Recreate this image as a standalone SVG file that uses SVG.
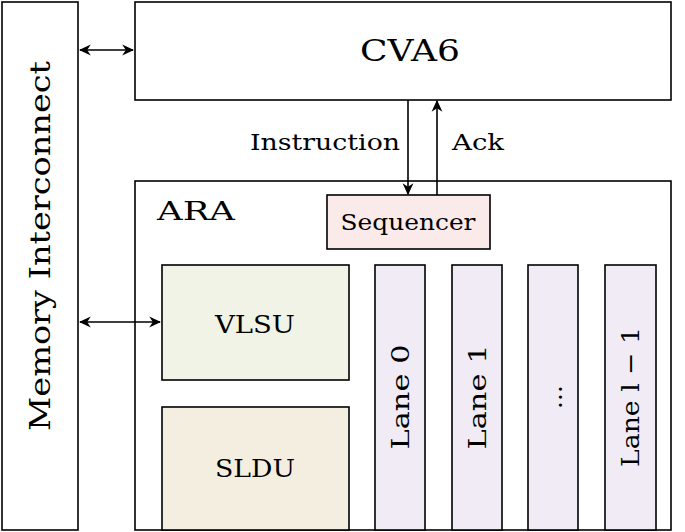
<svg xmlns="http://www.w3.org/2000/svg" width="685" height="532" viewBox="0 0 685 532">
<style>
rect{stroke:#000;stroke-width:1.6}
text{font-family:'DejaVu Serif','Liberation Serif',serif;fill:#000}
.c{stroke:#000;stroke-width:1.6;fill:none}
</style>
<defs>
<marker id="a" viewBox="0 0 10 10" refX="9" refY="5" markerWidth="12" markerHeight="12" orient="auto-start-reverse" markerUnits="userSpaceOnUse"><path d="M0,0.5 L10,5 L0,9.5 L3,5 Z" fill="#000"/></marker>
</defs>
<rect width="685" height="532" fill="#fff" style="stroke:none"/>
<g id="mem"><rect x="2" y="2" width="76" height="528" fill="#fff"/><text transform="translate(50,246) rotate(-90)" text-anchor="middle" font-size="27" textLength="370" lengthAdjust="spacingAndGlyphs">Memory Interconnect</text></g>
<g id="cva6"><rect x="135" y="2" width="536" height="98" fill="#fff"/><text x="410" y="61" text-anchor="middle" font-size="30" textLength="100" lengthAdjust="spacingAndGlyphs">CVA6</text></g>
<g id="ara"><rect x="135" y="181" width="536" height="349" fill="#fff"/><text x="157" y="220" font-size="26" textLength="78" lengthAdjust="spacingAndGlyphs">ARA</text></g>
<g id="seq"><rect x="327" y="195" width="163" height="54" fill="#fbeaea"/><text x="408" y="230" text-anchor="middle" font-size="23" textLength="135" lengthAdjust="spacingAndGlyphs">Sequencer</text></g>
<g id="vlsu"><rect x="162" y="265" width="187" height="115" fill="#f1f3e6"/><text x="255" y="333" text-anchor="middle" font-size="25" textLength="80" lengthAdjust="spacingAndGlyphs">VLSU</text></g>
<g id="sldu"><rect x="162" y="407" width="187" height="123" fill="#f4eee0"/><text x="255" y="477" text-anchor="middle" font-size="25" textLength="80" lengthAdjust="spacingAndGlyphs">SLDU</text></g>
<g id="lane0"><rect x="375" y="265" width="50" height="265" fill="#f0ebf4"/><text transform="translate(409,397) rotate(-90)" text-anchor="middle" font-size="25" textLength="105" lengthAdjust="spacingAndGlyphs">Lane 0</text></g>
<g id="lane1"><rect x="452" y="265" width="50" height="265" fill="#f0ebf4"/><text transform="translate(486,397) rotate(-90)" text-anchor="middle" font-size="25" textLength="105" lengthAdjust="spacingAndGlyphs">Lane 1</text></g>
<g id="laned"><rect x="528" y="265" width="50" height="265" fill="#f0ebf4"/><text transform="translate(562,397) rotate(-90)" text-anchor="middle" font-size="25">...</text></g>
<g id="lanel"><rect x="605" y="265" width="51" height="265" fill="#f0ebf4"/><text transform="translate(639,397) rotate(-90)" text-anchor="middle" font-size="25" textLength="140" lengthAdjust="spacingAndGlyphs">Lane l − 1</text></g>
<g id="connectors">
<line class="c" x1="80" y1="50" x2="133" y2="50" marker-start="url(#a)" marker-end="url(#a)"/>
<line class="c" x1="80" y1="322" x2="160" y2="322" marker-start="url(#a)" marker-end="url(#a)"/>
<line class="c" x1="408" y1="100" x2="408" y2="194" marker-end="url(#a)"/>
<line class="c" x1="437" y1="195" x2="437" y2="101" marker-end="url(#a)"/>
<text x="400" y="150" text-anchor="end" font-size="23" textLength="150" lengthAdjust="spacingAndGlyphs">Instruction</text>
<text x="452" y="150" font-size="23" textLength="52" lengthAdjust="spacingAndGlyphs">Ack</text>
</g>
</svg>
